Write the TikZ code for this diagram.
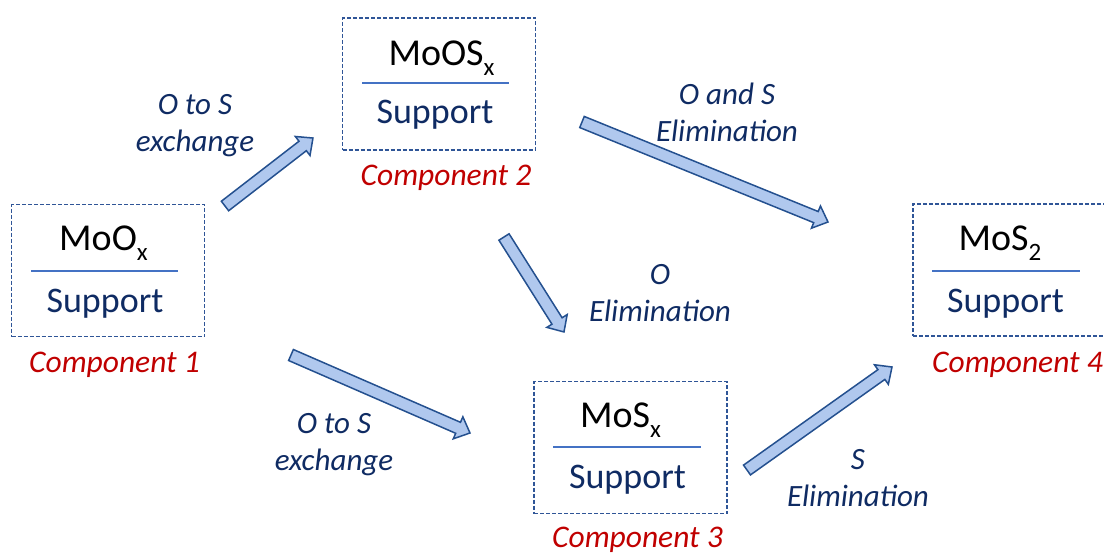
\documentclass[tikz,border=0pt]{standalone}
\usepackage{fontspec}
\setmainfont{Carlito}
\usetikzlibrary{calc}
\definecolor{boxline}{HTML}{2F5597}
\definecolor{divline}{HTML}{4472C4}
\definecolor{navy}{HTML}{0F2B63}
\definecolor{compred}{HTML}{C00000}
\definecolor{arrfill}{HTML}{B0C8EE}
\definecolor{arrline}{HTML}{24508F}
\newcommand\chemsub[1]{\raisebox{-10pt}{\fontsize{25}{25}\selectfont #1}}

\begin{document}
\begin{tikzpicture}[x=1pt,y=-1pt,
  cbox/.style={draw=boxline, line width=1.2pt, dash pattern=on 4pt off 2pt,
    minimum width=193, minimum height=132, inner sep=0},
  formula/.style={anchor=base, inner sep=0, font=\fontsize{38}{40}\selectfont},
  supp/.style={anchor=base, inner sep=0, text=navy, font=\fontsize{36}{40}\selectfont},
  divider/.style={draw=divline, line width=1.2pt},
  comptext/.style={anchor=base, inner sep=0, text=compred, font=\fontsize{31.5}{36}\selectfont\itshape},
  arrlabel/.style={inner sep=0, align=center, text=navy, font=\fontsize{31}{37}\selectfont\itshape},
  barrow/.style={draw=arrline, fill=arrfill, line width=1.5pt, line join=miter,
    to path={let \p1=($(\tikztotarget)-(\tikztostart)$), \n1={atan2(\y1,\x1)}, \n2={veclen(\x1,\y1)} in
      [shift={(\tikztostart)}, rotate=\n1]
      (0pt,-6pt) -- (\n2-13pt,-6pt) -- (\n2-13pt,-12pt) -- (\n2,0pt) -- (\n2-13pt,12pt) -- (\n2-13pt,6pt) -- (0pt,6pt) -- cycle}}]
\useasboundingbox (0,0) rectangle (1104,554);

% component 1
\node[cbox] (c1) at (108,270.5) {};
\node[formula] (f1) at (103.5,250) {MoO\chemsub{x}};
\draw[divider] (31,271) -- (178,271);
\node[supp] (s1) at (105,312) {Support};
\node[comptext] (n1) at (114.5,372) {Component 1};

% component 2
\node[cbox] (c2) at (439,84) {};
\node[formula] (f2) at (441.5,65) {MoOS\chemsub{x}};
\draw[divider] (362,83) -- (509,83);
\node[supp] (s2) at (435,123) {Support};
\node[comptext] (n2) at (446,185) {Component 2};

% component 3
\node[cbox] (c3) at (630.5,447.5) {};
\node[formula] (f3) at (620.5,427) {MoS\chemsub{x}};
\draw[divider] (553,447) -- (701,447);
\node[supp] (s3) at (627.5,488) {Support};
\node[comptext] (n3) at (637.5,547) {Component 3};

% component 4
\node[cbox] (c4) at (1009.5,270) {};
\node[formula] (f4) at (1000,250) {MoS\chemsub{2}};
\draw[divider] (932,271) -- (1080,271);
\node[supp] (s4) at (1005.5,312) {Support};
\node[comptext] (n4) at (1017.5,372) {Component 4};

% arrow ends
\coordinate (t1) at (225,206);
\coordinate (h1) at (313,138);
\coordinate (t2) at (582,122);
\coordinate (h2) at (828,222);
\coordinate (t3) at (504,237);
\coordinate (h3) at (564,332);
\coordinate (t4) at (291,355);
\coordinate (h4) at (470,433);
\coordinate (t5) at (747,470);
\coordinate (h5) at (892,367);

\draw[barrow] (t1) to (h1);
\draw[barrow] (t2) to (h2);
\draw[barrow] (t3) to (h3);
\draw[barrow] (t4) to (h4);
\draw[barrow] (t5) to (h5);

% reaction labels
\node[arrlabel] (l1) at (195,126) {O to S\\exchange};
\node[arrlabel] (l2) at (727,112) {O and S\\Elimination};
\node[arrlabel] (l3) at (660,293) {O\\Elimination};
\node[arrlabel] (l4) at (334,445) {O to S\\exchange};
\node[arrlabel] (l5) at (858,478) {S\\Elimination};
\end{tikzpicture}
\end{document}
